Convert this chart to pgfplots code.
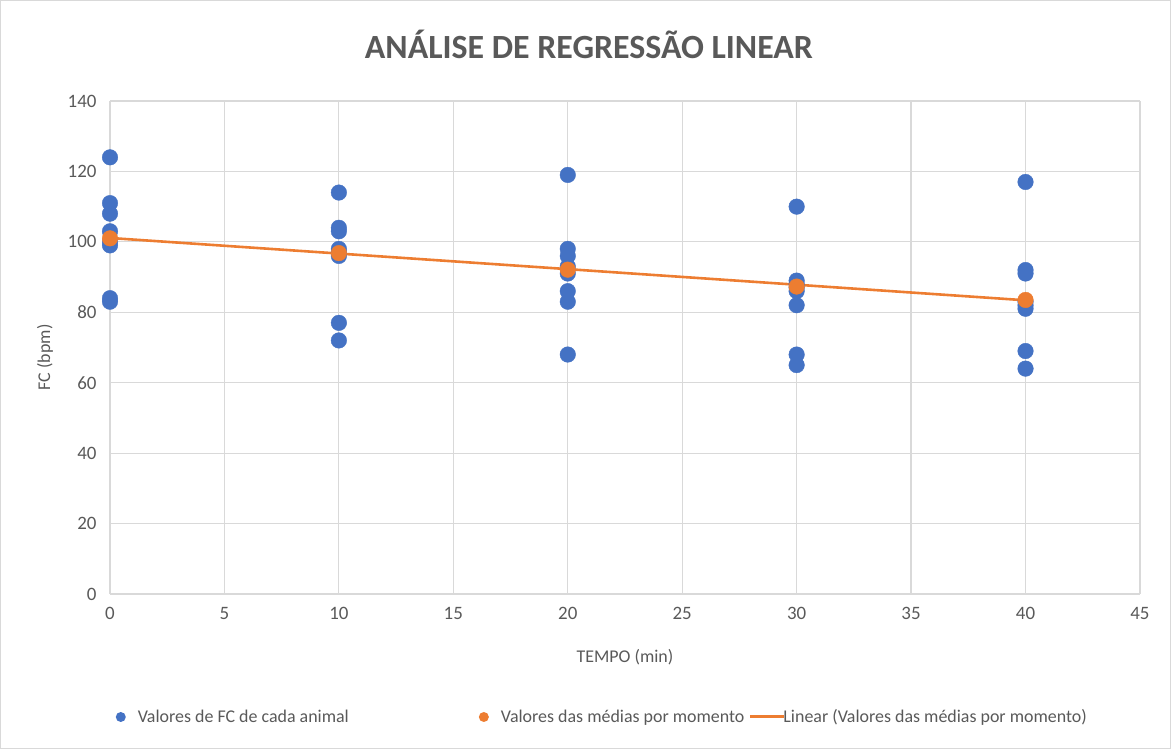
\documentclass[border=0pt]{standalone}
\usepackage{pgfplots}
\pgfplotsset{compat=1.18}
\usepackage{fontspec}
\setmainfont{Carlito}
\definecolor{blueP}{HTML}{4472C4}
\definecolor{orangeP}{HTML}{ED7D31}
\definecolor{txt}{HTML}{595959}
\definecolor{gridc}{HTML}{D9D9D9}
\begin{document}
\begin{tikzpicture}[x=1bp,y=1bp]
\draw[draw=gridc, line width=1.2bp] (0.6,0.6) rectangle (1170.4,748.4);
\begin{axis}[
  at={(110bp,155bp)}, anchor=south west,
  scale only axis, width=1030bp, height=493bp,
  xmin=0, xmax=45, ymin=0, ymax=140,
  xtick={0,5,...,45}, ytick={0,20,...,140},
  grid=major, major grid style={draw=gridc, line width=1.2bp},
  axis line style={draw=none},
  major tick length=0pt,
  /pgf/number format/assume math mode=true,
  tick label style={font=\fontsize{19}{22}\selectfont, text=txt},
  yticklabel style={xshift=-10bp},
  xticklabel style={yshift=-10bp},
  title={ANÁLISE DE REGRESSÃO LINEAR},
  title style={at={(rel axis cs:0.465,1.1035)}, anchor=center, font=\bfseries\fontsize{34}{40}\selectfont, text=txt},
  xlabel={TEMPO (min)},
  xlabel style={at={(rel axis cs:0.5,-0.128)}, anchor=center, font=\fontsize{18}{21}\selectfont, text=txt},
  ylabel={FC (bpm)},
  ylabel style={at={(rel axis cs:-0.063,0.48)}, anchor=center, rotate=0, font=\fontsize{18}{21}\selectfont, text=txt},
  legend columns=3,
  legend style={at={(rel axis cs:0.478,-0.2495)}, anchor=center, draw=none, fill=none,
    font=\fontsize{18}{21}\selectfont, text=txt,
    /tikz/every odd column/.append style={column sep=0bp}},
  clip=false,
]
\addplot[only marks, mark=*, mark size=7.8bp, mark options={fill=blueP, draw=blueP},
  legend image code/.code={\path[draw=none, fill=none] (0,0) -- (20bp,0); \fill[blueP, draw=none] (5bp,0) circle (5bp);}]
  coordinates {
  (0,124) (0,111) (0,108) (0,103) (0,100) (0,99) (0,84) (0,83)
  (10,114) (10,104) (10,103) (10,98) (10,97) (10,96) (10,77) (10,72)
  (20,119) (20,98) (20,96) (20,93) (20,91) (20,86) (20,83) (20,68)
  (30,110) (30,89) (30,88) (30,87) (30,86) (30,82) (30,68) (30,65)
  (40,117) (40,92) (40,91) (40,83) (40,82) (40,81) (40,69) (40,64)
  };
\addlegendentry{Valores de FC de cada animal\hspace*{128bp}}
\addplot[only marks, mark=*, mark size=7.8bp, mark options={fill=orangeP, draw=orangeP},
  legend image code/.code={\path[draw=none, fill=none] (0,0) -- (20bp,0); \fill[orangeP, draw=none] (5bp,0) circle (5bp);}]
  coordinates {(0,101) (10,96.8) (20,92.1) (30,87.3) (40,83.5)};
\addlegendentry{Valores das médias por momento\hspace*{2bp}}
\addplot[orangeP, line width=2.6bp, no marks,
  legend image code/.code={\draw[orangeP, line width=3bp] (0,0) -- (34bp,0);}]
  coordinates {(0,101.1) (40,83.4)};
\addlegendentry{\hspace*{-4bp}Linear (Valores das médias por momento)}
\end{axis}
\end{tikzpicture}
\end{document}
